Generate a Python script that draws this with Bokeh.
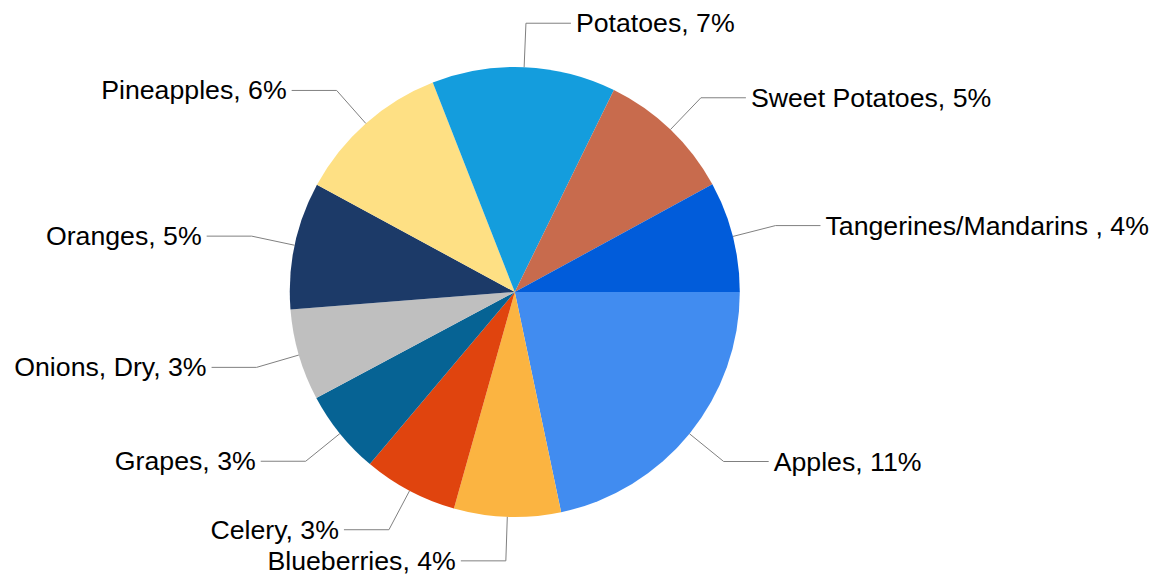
import numpy as np
from bokeh.plotting import figure
from bokeh.models import Range1d, ColumnDataSource
from bokeh.embed import file_html
from bokeh.resources import INLINE
from bokeh.core.properties import value

# ---- data (clockwise from 3 o'clock) ----
categories = ["Apples", "Blueberries", "Celery", "Grapes", "Onions, Dry",
              "Oranges", "Pineapples", "Potatoes", "Sweet Potatoes",
              "Tangerines/Mandarins "]
values = [10.85, 3.83, 3.39, 3.03, 3.28, 4.57, 5.58, 6.60, 4.90, 3.97]
colors = ["#418CF0", "#FBB441", "#E0440E", "#066394", "#BFBFBF",
          "#1C3A68", "#FEE084", "#149DDD", "#C86B4D", "#015CDA"]

# ---- layout constants (pixels) ----
W, H = 1163, 577
cx, cy = 514.3, H - 291.5
R = 225
R_ELBOW = 269
H_LEN = 45
GAP = 5

vals = np.array(values, dtype=float)
total = vals.sum()
cum = np.cumsum(vals)
prev = cum - vals
a0 = prev / total * 2 * np.pi      # clockwise angle start
a1 = cum / total * 2 * np.pi       # clockwise angle end
start_angle = -a1
end_angle = -a0
mid = -(a0 + a1) / 2

labels = [f"{c}, {round(v):.0f}%" for c, v in zip(categories, values)]

src = ColumnDataSource(dict(start=start_angle, end=end_angle, color=colors))

p = figure(width=W, height=H, output_backend="svg", toolbar_location=None,
           x_range=Range1d(0, W), y_range=Range1d(0, H),
           min_border=0, outline_line_color=None)
p.axis.visible = False
p.grid.visible = False
p.background_fill_color = "white"
p.border_fill_color = "white"

p.wedge(x=cx, y=cy, radius=R, start_angle="start", end_angle="end",
        fill_color="color", line_color=None, source=src)

xs, ys = [], []
lx, ly, lt = [], [], []
rx, ry, rt = [], [], []
for m, lab in zip(mid, labels):
    ex, ey = cx + R * np.cos(m), cy + R * np.sin(m)
    bx, by = cx + R_ELBOW * np.cos(m), cy + R_ELBOW * np.sin(m)
    if np.cos(m) >= 0:
        tx = bx + H_LEN
        rx.append(tx + GAP); ry.append(by); rt.append(lab)
    else:
        tx = bx - H_LEN
        lx.append(tx - GAP); ly.append(by); lt.append(lab)
    xs.append([ex, bx, tx]); ys.append([ey, by, by])

p.multi_line(xs=xs, ys=ys, line_color="#808080", line_width=1)

common = dict(text_font=value("Liberation Sans"), text_font_size=value("26.7px"),
              text_color="#000000", text_baseline="middle")
p.text(x=rx, y=ry, text=rt, text_align="left", **common)
p.text(x=lx, y=ly, text=lt, text_align="right", **common)

open("out.html", "w").write(file_html(p, INLINE))
